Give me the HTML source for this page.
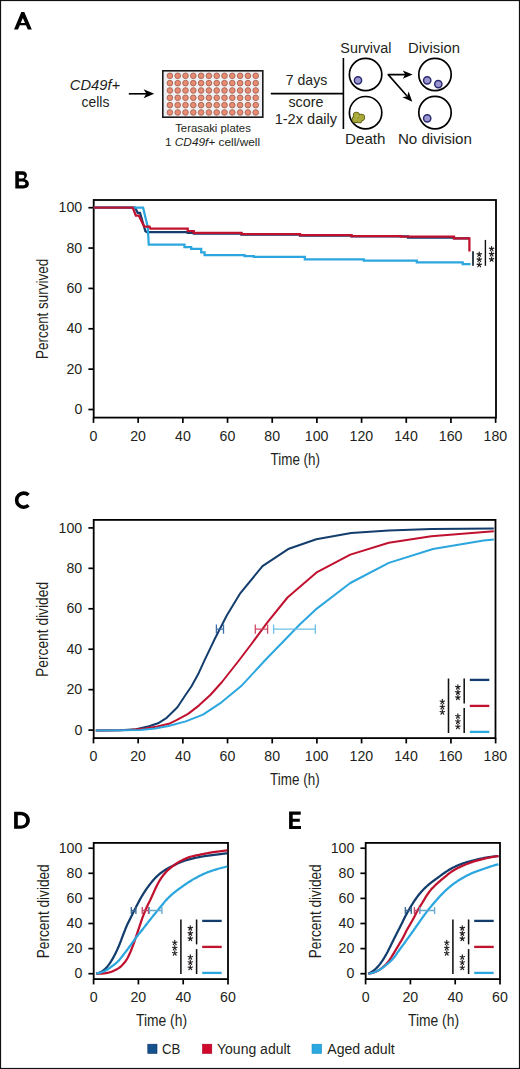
<!DOCTYPE html>
<html><head><meta charset="utf-8"><style>
html,body{margin:0;padding:0;background:#fff;}
body{width:520px;height:1069px;overflow:hidden;}
svg{display:block;font-family:"Liberation Sans",sans-serif;}
</style></head><body>
<svg width="520" height="1069" viewBox="0 0 520 1069">
<rect x="0" y="0" width="520" height="1069" fill="#fff"/>
<path fill-rule="evenodd" fill="#000" d="M14 29.6 L21.3 12 L24.3 12 L31.8 29.6 L27.8 29.6 L25.93 25.2 L19.83 25.2 L18 29.6 Z M20.74 23 L22.83 17.95 L24.99 23 Z"/>
<text transform="translate(69.78 89.60) scale(1.0294 1)" font-size="14.30" fill="#231f20"><tspan font-style="italic">CD49f+</tspan></text>
<text transform="translate(81.51 106.50) scale(0.9782 1)" font-size="14.30" fill="#231f20"><tspan>cells</tspan></text>
<line x1="128.8" y1="93.8" x2="148" y2="93.8" stroke="#000" stroke-width="1.6"/>
<path d="M154.2 93.8 L143.6 89.2 L146.4 93.8 L143.6 98.2 Z" fill="#000"/>
<rect x="162.8" y="70.8" width="100" height="46.4" fill="#f0f0f4" stroke="#1a1a1a" stroke-width="1.6"/>
<circle cx="169.90" cy="75.80" r="2.8" fill="#e98b74" stroke="#a8654f" stroke-width="0.95"/>
<circle cx="177.70" cy="75.80" r="2.8" fill="#e98b74" stroke="#a8654f" stroke-width="0.95"/>
<circle cx="185.50" cy="75.80" r="2.8" fill="#e98b74" stroke="#a8654f" stroke-width="0.95"/>
<circle cx="193.30" cy="75.80" r="2.8" fill="#e98b74" stroke="#a8654f" stroke-width="0.95"/>
<circle cx="201.10" cy="75.80" r="2.8" fill="#e98b74" stroke="#a8654f" stroke-width="0.95"/>
<circle cx="208.90" cy="75.80" r="2.8" fill="#e98b74" stroke="#a8654f" stroke-width="0.95"/>
<circle cx="216.70" cy="75.80" r="2.8" fill="#e98b74" stroke="#a8654f" stroke-width="0.95"/>
<circle cx="224.50" cy="75.80" r="2.8" fill="#e98b74" stroke="#a8654f" stroke-width="0.95"/>
<circle cx="232.30" cy="75.80" r="2.8" fill="#e98b74" stroke="#a8654f" stroke-width="0.95"/>
<circle cx="240.10" cy="75.80" r="2.8" fill="#e98b74" stroke="#a8654f" stroke-width="0.95"/>
<circle cx="247.90" cy="75.80" r="2.8" fill="#e98b74" stroke="#a8654f" stroke-width="0.95"/>
<circle cx="255.70" cy="75.80" r="2.8" fill="#e98b74" stroke="#a8654f" stroke-width="0.95"/>
<circle cx="169.90" cy="83.13" r="2.8" fill="#e98b74" stroke="#a8654f" stroke-width="0.95"/>
<circle cx="177.70" cy="83.13" r="2.8" fill="#e98b74" stroke="#a8654f" stroke-width="0.95"/>
<circle cx="185.50" cy="83.13" r="2.8" fill="#e98b74" stroke="#a8654f" stroke-width="0.95"/>
<circle cx="193.30" cy="83.13" r="2.8" fill="#e98b74" stroke="#a8654f" stroke-width="0.95"/>
<circle cx="201.10" cy="83.13" r="2.8" fill="#e98b74" stroke="#a8654f" stroke-width="0.95"/>
<circle cx="208.90" cy="83.13" r="2.8" fill="#e98b74" stroke="#a8654f" stroke-width="0.95"/>
<circle cx="216.70" cy="83.13" r="2.8" fill="#e98b74" stroke="#a8654f" stroke-width="0.95"/>
<circle cx="224.50" cy="83.13" r="2.8" fill="#e98b74" stroke="#a8654f" stroke-width="0.95"/>
<circle cx="232.30" cy="83.13" r="2.8" fill="#e98b74" stroke="#a8654f" stroke-width="0.95"/>
<circle cx="240.10" cy="83.13" r="2.8" fill="#e98b74" stroke="#a8654f" stroke-width="0.95"/>
<circle cx="247.90" cy="83.13" r="2.8" fill="#e98b74" stroke="#a8654f" stroke-width="0.95"/>
<circle cx="255.70" cy="83.13" r="2.8" fill="#e98b74" stroke="#a8654f" stroke-width="0.95"/>
<circle cx="169.90" cy="90.46" r="2.8" fill="#e98b74" stroke="#a8654f" stroke-width="0.95"/>
<circle cx="177.70" cy="90.46" r="2.8" fill="#e98b74" stroke="#a8654f" stroke-width="0.95"/>
<circle cx="185.50" cy="90.46" r="2.8" fill="#e98b74" stroke="#a8654f" stroke-width="0.95"/>
<circle cx="193.30" cy="90.46" r="2.8" fill="#e98b74" stroke="#a8654f" stroke-width="0.95"/>
<circle cx="201.10" cy="90.46" r="2.8" fill="#e98b74" stroke="#a8654f" stroke-width="0.95"/>
<circle cx="208.90" cy="90.46" r="2.8" fill="#e98b74" stroke="#a8654f" stroke-width="0.95"/>
<circle cx="216.70" cy="90.46" r="2.8" fill="#e98b74" stroke="#a8654f" stroke-width="0.95"/>
<circle cx="224.50" cy="90.46" r="2.8" fill="#e98b74" stroke="#a8654f" stroke-width="0.95"/>
<circle cx="232.30" cy="90.46" r="2.8" fill="#e98b74" stroke="#a8654f" stroke-width="0.95"/>
<circle cx="240.10" cy="90.46" r="2.8" fill="#e98b74" stroke="#a8654f" stroke-width="0.95"/>
<circle cx="247.90" cy="90.46" r="2.8" fill="#e98b74" stroke="#a8654f" stroke-width="0.95"/>
<circle cx="255.70" cy="90.46" r="2.8" fill="#e98b74" stroke="#a8654f" stroke-width="0.95"/>
<circle cx="169.90" cy="97.79" r="2.8" fill="#e98b74" stroke="#a8654f" stroke-width="0.95"/>
<circle cx="177.70" cy="97.79" r="2.8" fill="#e98b74" stroke="#a8654f" stroke-width="0.95"/>
<circle cx="185.50" cy="97.79" r="2.8" fill="#e98b74" stroke="#a8654f" stroke-width="0.95"/>
<circle cx="193.30" cy="97.79" r="2.8" fill="#e98b74" stroke="#a8654f" stroke-width="0.95"/>
<circle cx="201.10" cy="97.79" r="2.8" fill="#e98b74" stroke="#a8654f" stroke-width="0.95"/>
<circle cx="208.90" cy="97.79" r="2.8" fill="#e98b74" stroke="#a8654f" stroke-width="0.95"/>
<circle cx="216.70" cy="97.79" r="2.8" fill="#e98b74" stroke="#a8654f" stroke-width="0.95"/>
<circle cx="224.50" cy="97.79" r="2.8" fill="#e98b74" stroke="#a8654f" stroke-width="0.95"/>
<circle cx="232.30" cy="97.79" r="2.8" fill="#e98b74" stroke="#a8654f" stroke-width="0.95"/>
<circle cx="240.10" cy="97.79" r="2.8" fill="#e98b74" stroke="#a8654f" stroke-width="0.95"/>
<circle cx="247.90" cy="97.79" r="2.8" fill="#e98b74" stroke="#a8654f" stroke-width="0.95"/>
<circle cx="255.70" cy="97.79" r="2.8" fill="#e98b74" stroke="#a8654f" stroke-width="0.95"/>
<circle cx="169.90" cy="105.12" r="2.8" fill="#e98b74" stroke="#a8654f" stroke-width="0.95"/>
<circle cx="177.70" cy="105.12" r="2.8" fill="#e98b74" stroke="#a8654f" stroke-width="0.95"/>
<circle cx="185.50" cy="105.12" r="2.8" fill="#e98b74" stroke="#a8654f" stroke-width="0.95"/>
<circle cx="193.30" cy="105.12" r="2.8" fill="#e98b74" stroke="#a8654f" stroke-width="0.95"/>
<circle cx="201.10" cy="105.12" r="2.8" fill="#e98b74" stroke="#a8654f" stroke-width="0.95"/>
<circle cx="208.90" cy="105.12" r="2.8" fill="#e98b74" stroke="#a8654f" stroke-width="0.95"/>
<circle cx="216.70" cy="105.12" r="2.8" fill="#e98b74" stroke="#a8654f" stroke-width="0.95"/>
<circle cx="224.50" cy="105.12" r="2.8" fill="#e98b74" stroke="#a8654f" stroke-width="0.95"/>
<circle cx="232.30" cy="105.12" r="2.8" fill="#e98b74" stroke="#a8654f" stroke-width="0.95"/>
<circle cx="240.10" cy="105.12" r="2.8" fill="#e98b74" stroke="#a8654f" stroke-width="0.95"/>
<circle cx="247.90" cy="105.12" r="2.8" fill="#e98b74" stroke="#a8654f" stroke-width="0.95"/>
<circle cx="255.70" cy="105.12" r="2.8" fill="#e98b74" stroke="#a8654f" stroke-width="0.95"/>
<circle cx="169.90" cy="112.45" r="2.8" fill="#e98b74" stroke="#a8654f" stroke-width="0.95"/>
<circle cx="177.70" cy="112.45" r="2.8" fill="#e98b74" stroke="#a8654f" stroke-width="0.95"/>
<circle cx="185.50" cy="112.45" r="2.8" fill="#e98b74" stroke="#a8654f" stroke-width="0.95"/>
<circle cx="193.30" cy="112.45" r="2.8" fill="#e98b74" stroke="#a8654f" stroke-width="0.95"/>
<circle cx="201.10" cy="112.45" r="2.8" fill="#e98b74" stroke="#a8654f" stroke-width="0.95"/>
<circle cx="208.90" cy="112.45" r="2.8" fill="#e98b74" stroke="#a8654f" stroke-width="0.95"/>
<circle cx="216.70" cy="112.45" r="2.8" fill="#e98b74" stroke="#a8654f" stroke-width="0.95"/>
<circle cx="224.50" cy="112.45" r="2.8" fill="#e98b74" stroke="#a8654f" stroke-width="0.95"/>
<circle cx="232.30" cy="112.45" r="2.8" fill="#e98b74" stroke="#a8654f" stroke-width="0.95"/>
<circle cx="240.10" cy="112.45" r="2.8" fill="#e98b74" stroke="#a8654f" stroke-width="0.95"/>
<circle cx="247.90" cy="112.45" r="2.8" fill="#e98b74" stroke="#a8654f" stroke-width="0.95"/>
<circle cx="255.70" cy="112.45" r="2.8" fill="#e98b74" stroke="#a8654f" stroke-width="0.95"/>
<text transform="translate(175.15 131.70) scale(1.0142 1)" font-size="11.20" fill="#231f20"><tspan>Terasaki plates</tspan></text>
<text transform="translate(164.90 145.70) scale(1.0594 1)" font-size="11.20" fill="#231f20"><tspan>1 </tspan><tspan font-style="italic">CD49f+</tspan><tspan> cell/well</tspan></text>
<text transform="translate(285.76 85.00) scale(0.9853 1)" font-size="14.30" fill="#231f20"><tspan>7 days</tspan></text>
<text transform="translate(288.40 106.50) scale(1.0000 1)" font-size="14.30" fill="#231f20"><tspan>score</tspan></text>
<text transform="translate(274.68 124.20) scale(1.0192 1)" font-size="14.30" fill="#231f20"><tspan>1-2x daily</tspan></text>
<line x1="270.8" y1="93.6" x2="343.4" y2="93.6" stroke="#000" stroke-width="1.6"/>
<line x1="343.4" y1="58" x2="343.4" y2="129" stroke="#000" stroke-width="1.6"/>
<circle cx="365.6" cy="74.5" r="16.2" fill="#fff" stroke="#000" stroke-width="1.7"/>
<circle cx="365.6" cy="112.7" r="16.2" fill="#fff" stroke="#000" stroke-width="1.7"/>
<circle cx="435.0" cy="74.5" r="16.2" fill="#fff" stroke="#000" stroke-width="1.7"/>
<circle cx="435.0" cy="112.6" r="16.2" fill="#fff" stroke="#000" stroke-width="1.7"/>
<circle cx="358.0" cy="80.3" r="3.65" fill="#9b95d0" stroke="#2a2a70" stroke-width="1.45"/>
<circle cx="427.2" cy="80.3" r="3.65" fill="#9b95d0" stroke="#2a2a70" stroke-width="1.45"/>
<circle cx="438.3" cy="84.1" r="3.65" fill="#9b95d0" stroke="#2a2a70" stroke-width="1.45"/>
<circle cx="427.2" cy="118.3" r="3.65" fill="#9b95d0" stroke="#2a2a70" stroke-width="1.45"/>
<circle cx="356.40" cy="115.30" r="2.90" fill="#6a6a1c" stroke="#5c5c14" stroke-width="1.3"/>
<circle cx="361.40" cy="117.40" r="3.00" fill="#6a6a1c" stroke="#5c5c14" stroke-width="1.3"/>
<circle cx="355.30" cy="119.50" r="3.00" fill="#6a6a1c" stroke="#5c5c14" stroke-width="1.3"/>
<circle cx="359.30" cy="120.20" r="2.50" fill="#6a6a1c" stroke="#5c5c14" stroke-width="1.3"/>
<circle cx="356.40" cy="115.30" r="2.70" fill="#a9a83a"/>
<circle cx="361.40" cy="117.40" r="2.80" fill="#a9a83a"/>
<circle cx="355.30" cy="119.50" r="2.80" fill="#a9a83a"/>
<circle cx="359.30" cy="120.20" r="2.30" fill="#a9a83a"/>
<circle cx="357.2" cy="116.2" r="1.3" fill="#bcbb55" opacity="0.7"/>
<polyline points="406,74.6 388.2,74.6 406.8,95.8" fill="none" stroke="#000" stroke-width="1.6" stroke-linejoin="round" stroke-linecap="butt"/>
<path d="M412.6 74.6 L402.8 70.4 L405.2 74.6 L402.8 78.8 Z" fill="#000"/>
<path d="M412.3 101.8 L402.4 97.2 L407.2 96.3 L408.6 91.6 Z" fill="#000"/>
<text transform="translate(340.35 53.00) scale(1.0041 1)" font-size="14.30" fill="#231f20"><tspan>Survival</tspan></text>
<text transform="translate(408.11 53.00) scale(1.0354 1)" font-size="14.30" fill="#231f20"><tspan>Division</tspan></text>
<text transform="translate(344.98 144.00) scale(1.0637 1)" font-size="14.30" fill="#231f20"><tspan>Death</tspan></text>
<text transform="translate(397.88 144.00) scale(1.0604 1)" font-size="14.30" fill="#231f20"><tspan>No division</tspan></text>
<path fill-rule="evenodd" fill="#000" d="M15.3 171.3 H22.6 C25.4 171.3 26.9 173.0 26.9 175.2 C26.9 177.0 25.9 178.3 24.6 179.0 C27.0 179.6 28.9 181.2 28.9 183.7 C28.9 186.6 26.7 188.4 23.4 188.4 H15.3 Z M18.9 174.7 H22.3 C23.6 174.7 24.3 175.4 24.3 176.6 C24.3 177.8 23.5 178.6 22.2 178.6 H18.9 Z M18.9 181.4 H22.9 C24.5 181.4 25.4 182.3 25.4 183.4 C25.4 184.6 24.5 185.2 22.9 185.2 H18.9 Z"/>
<rect x="93.70" y="200.00" width="402.30" height="217.60" fill="none" stroke="#000" stroke-width="1.8"/>
<line x1="88.40" y1="207.70" x2="93.70" y2="207.70" stroke="#000" stroke-width="1.70"/>
<text transform="translate(58.61 212.30) scale(0.9330 1)" font-size="15.20" fill="#231f20"><tspan>100</tspan></text>
<line x1="88.40" y1="248.06" x2="93.70" y2="248.06" stroke="#000" stroke-width="1.70"/>
<text transform="translate(66.49 252.66) scale(0.9330 1)" font-size="15.20" fill="#231f20"><tspan>80</tspan></text>
<line x1="88.40" y1="288.42" x2="93.70" y2="288.42" stroke="#000" stroke-width="1.70"/>
<text transform="translate(66.49 293.02) scale(0.9330 1)" font-size="15.20" fill="#231f20"><tspan>60</tspan></text>
<line x1="88.40" y1="328.78" x2="93.70" y2="328.78" stroke="#000" stroke-width="1.70"/>
<text transform="translate(66.49 333.38) scale(0.9330 1)" font-size="15.20" fill="#231f20"><tspan>40</tspan></text>
<line x1="88.40" y1="369.14" x2="93.70" y2="369.14" stroke="#000" stroke-width="1.70"/>
<text transform="translate(66.49 373.74) scale(0.9330 1)" font-size="15.20" fill="#231f20"><tspan>20</tspan></text>
<line x1="88.40" y1="409.50" x2="93.70" y2="409.50" stroke="#000" stroke-width="1.70"/>
<text transform="translate(74.38 414.10) scale(0.9330 1)" font-size="15.20" fill="#231f20"><tspan>0</tspan></text>
<line x1="93.50" y1="417.60" x2="93.50" y2="422.90" stroke="#000" stroke-width="1.70"/>
<text transform="translate(89.56 440.80) scale(0.9330 1)" font-size="15.20" fill="#231f20"><tspan>0</tspan></text>
<line x1="138.18" y1="417.60" x2="138.18" y2="422.90" stroke="#000" stroke-width="1.70"/>
<text transform="translate(130.23 440.80) scale(0.9330 1)" font-size="15.20" fill="#231f20"><tspan>20</tspan></text>
<line x1="182.86" y1="417.60" x2="182.86" y2="422.90" stroke="#000" stroke-width="1.70"/>
<text transform="translate(175.09 440.80) scale(0.9330 1)" font-size="15.20" fill="#231f20"><tspan>40</tspan></text>
<line x1="227.54" y1="417.60" x2="227.54" y2="422.90" stroke="#000" stroke-width="1.70"/>
<text transform="translate(219.59 440.80) scale(0.9330 1)" font-size="15.20" fill="#231f20"><tspan>60</tspan></text>
<line x1="272.22" y1="417.60" x2="272.22" y2="422.90" stroke="#000" stroke-width="1.70"/>
<text transform="translate(264.31 440.80) scale(0.9330 1)" font-size="15.20" fill="#231f20"><tspan>80</tspan></text>
<line x1="316.90" y1="417.60" x2="316.90" y2="422.90" stroke="#000" stroke-width="1.70"/>
<text transform="translate(304.82 440.80) scale(0.9330 1)" font-size="15.20" fill="#231f20"><tspan>100</tspan></text>
<line x1="361.58" y1="417.60" x2="361.58" y2="422.90" stroke="#000" stroke-width="1.70"/>
<text transform="translate(349.50 440.80) scale(0.9330 1)" font-size="15.20" fill="#231f20"><tspan>120</tspan></text>
<line x1="406.26" y1="417.60" x2="406.26" y2="422.90" stroke="#000" stroke-width="1.70"/>
<text transform="translate(394.18 440.80) scale(0.9330 1)" font-size="15.20" fill="#231f20"><tspan>140</tspan></text>
<line x1="450.94" y1="417.60" x2="450.94" y2="422.90" stroke="#000" stroke-width="1.70"/>
<text transform="translate(438.86 440.80) scale(0.9330 1)" font-size="15.20" fill="#231f20"><tspan>160</tspan></text>
<line x1="495.62" y1="417.60" x2="495.62" y2="422.90" stroke="#000" stroke-width="1.70"/>
<text transform="translate(483.54 440.80) scale(0.9330 1)" font-size="15.20" fill="#231f20"><tspan>180</tspan></text>
<text transform="translate(270.51 464.90) scale(0.8295 1)" font-size="16.20" fill="#231f20"><tspan>Time (h)</tspan></text>
<text transform="translate(48.00 358.98) rotate(-90) scale(0.8309 1)" font-size="16.20" fill="#231f20"><tspan>Percent survived</tspan></text>
<path d="M93.7 207.6 H135 L137.7 212.8 H140 L145.4 231.2 L147 232 H187.7 V232.8 H193.8 V233.6 H241.5 V234.6 H300 V235.5 H351.5 V236.3 H408 V237.6 H454 V238.3 H469.5" fill="none" stroke="#133d6c" stroke-width="2.25" stroke-linejoin="miter"/>
<path d="M93.7 207.6 H143.1 L145 215.8 L147.7 226.6 L148.8 244.7 H184.5 V247 H191.2 V248.8 H201.2 V252.3 H204.6 V255.2 H244.6 V256.1 H253.8 V256.9 H304.8 V259.4 H363.8 V260.5 H416.8 V262.4 H462.7 V264 H470.6" fill="none" stroke="#2ba6de" stroke-width="2.25" stroke-linejoin="miter"/>
<path d="M93.7 207.6 H132.7 L135.8 215.5 H138.8 L144.2 226.6 H149.6 L150.4 228.5 H187.7 V231 H193.8 V232.8 H241.5 V234.2 H300 V235.2 H351.5 V236 H400.8 V236.5 H454 V238.4 H469.4 V251.4" fill="none" stroke="#c0112f" stroke-width="2.25" stroke-linejoin="miter"/>
<line x1="473.0" y1="251.2" x2="473.0" y2="265.8" stroke="#1e2d3a" stroke-width="1.8"/>
<line x1="485.4" y1="239.9" x2="485.4" y2="265.8" stroke="#111" stroke-width="1.4"/>
<path d="M479.25 254.35 L479.25 252.00 M479.25 254.35 L481.48 253.62 M479.25 254.35 L480.63 256.25 M479.25 254.35 L477.87 256.25 M479.25 254.35 L477.02 253.62 " stroke="#231f20" stroke-width="1.20" stroke-linecap="round" fill="none"/>
<path d="M479.25 259.60 L479.25 257.25 M479.25 259.60 L481.48 258.87 M479.25 259.60 L480.63 261.50 M479.25 259.60 L477.87 261.50 M479.25 259.60 L477.02 258.87 " stroke="#231f20" stroke-width="1.20" stroke-linecap="round" fill="none"/>
<path d="M479.25 264.85 L479.25 262.50 M479.25 264.85 L481.48 264.12 M479.25 264.85 L480.63 266.75 M479.25 264.85 L477.87 266.75 M479.25 264.85 L477.02 264.12 " stroke="#231f20" stroke-width="1.20" stroke-linecap="round" fill="none"/>
<path d="M491.60 248.85 L491.60 246.50 M491.60 248.85 L493.83 248.12 M491.60 248.85 L492.98 250.75 M491.60 248.85 L490.22 250.75 M491.60 248.85 L489.37 248.12 " stroke="#231f20" stroke-width="1.20" stroke-linecap="round" fill="none"/>
<path d="M491.60 254.10 L491.60 251.75 M491.60 254.10 L493.83 253.37 M491.60 254.10 L492.98 256.00 M491.60 254.10 L490.22 256.00 M491.60 254.10 L489.37 253.37 " stroke="#231f20" stroke-width="1.20" stroke-linecap="round" fill="none"/>
<path d="M491.60 259.35 L491.60 257.00 M491.60 259.35 L493.83 258.62 M491.60 259.35 L492.98 261.25 M491.60 259.35 L490.22 261.25 M491.60 259.35 L489.37 258.62 " stroke="#231f20" stroke-width="1.20" stroke-linecap="round" fill="none"/>
<path fill="none" stroke="#000" stroke-width="3.6" d="M28.5 495.0 A7.05 7.05 0 1 0 28.5 505.3"/>
<rect x="93.70" y="519.90" width="401.80" height="218.20" fill="none" stroke="#000" stroke-width="1.8"/>
<line x1="88.40" y1="527.90" x2="93.70" y2="527.90" stroke="#000" stroke-width="1.70"/>
<text transform="translate(58.61 532.50) scale(0.9330 1)" font-size="15.20" fill="#231f20"><tspan>100</tspan></text>
<line x1="88.40" y1="568.34" x2="93.70" y2="568.34" stroke="#000" stroke-width="1.70"/>
<text transform="translate(66.49 572.94) scale(0.9330 1)" font-size="15.20" fill="#231f20"><tspan>80</tspan></text>
<line x1="88.40" y1="608.78" x2="93.70" y2="608.78" stroke="#000" stroke-width="1.70"/>
<text transform="translate(66.49 613.38) scale(0.9330 1)" font-size="15.20" fill="#231f20"><tspan>60</tspan></text>
<line x1="88.40" y1="649.22" x2="93.70" y2="649.22" stroke="#000" stroke-width="1.70"/>
<text transform="translate(66.49 653.82) scale(0.9330 1)" font-size="15.20" fill="#231f20"><tspan>40</tspan></text>
<line x1="88.40" y1="689.66" x2="93.70" y2="689.66" stroke="#000" stroke-width="1.70"/>
<text transform="translate(66.49 694.26) scale(0.9330 1)" font-size="15.20" fill="#231f20"><tspan>20</tspan></text>
<line x1="88.40" y1="730.10" x2="93.70" y2="730.10" stroke="#000" stroke-width="1.70"/>
<text transform="translate(74.38 734.70) scale(0.9330 1)" font-size="15.20" fill="#231f20"><tspan>0</tspan></text>
<line x1="93.50" y1="738.10" x2="93.50" y2="743.40" stroke="#000" stroke-width="1.70"/>
<text transform="translate(89.56 761.20) scale(0.9330 1)" font-size="15.20" fill="#231f20"><tspan>0</tspan></text>
<line x1="138.18" y1="738.10" x2="138.18" y2="743.40" stroke="#000" stroke-width="1.70"/>
<text transform="translate(130.23 761.20) scale(0.9330 1)" font-size="15.20" fill="#231f20"><tspan>20</tspan></text>
<line x1="182.86" y1="738.10" x2="182.86" y2="743.40" stroke="#000" stroke-width="1.70"/>
<text transform="translate(175.09 761.20) scale(0.9330 1)" font-size="15.20" fill="#231f20"><tspan>40</tspan></text>
<line x1="227.54" y1="738.10" x2="227.54" y2="743.40" stroke="#000" stroke-width="1.70"/>
<text transform="translate(219.59 761.20) scale(0.9330 1)" font-size="15.20" fill="#231f20"><tspan>60</tspan></text>
<line x1="272.22" y1="738.10" x2="272.22" y2="743.40" stroke="#000" stroke-width="1.70"/>
<text transform="translate(264.31 761.20) scale(0.9330 1)" font-size="15.20" fill="#231f20"><tspan>80</tspan></text>
<line x1="316.90" y1="738.10" x2="316.90" y2="743.40" stroke="#000" stroke-width="1.70"/>
<text transform="translate(304.82 761.20) scale(0.9330 1)" font-size="15.20" fill="#231f20"><tspan>100</tspan></text>
<line x1="361.58" y1="738.10" x2="361.58" y2="743.40" stroke="#000" stroke-width="1.70"/>
<text transform="translate(349.50 761.20) scale(0.9330 1)" font-size="15.20" fill="#231f20"><tspan>120</tspan></text>
<line x1="406.26" y1="738.10" x2="406.26" y2="743.40" stroke="#000" stroke-width="1.70"/>
<text transform="translate(394.18 761.20) scale(0.9330 1)" font-size="15.20" fill="#231f20"><tspan>140</tspan></text>
<line x1="450.94" y1="738.10" x2="450.94" y2="743.40" stroke="#000" stroke-width="1.70"/>
<text transform="translate(438.86 761.20) scale(0.9330 1)" font-size="15.20" fill="#231f20"><tspan>160</tspan></text>
<line x1="495.62" y1="738.10" x2="495.62" y2="743.40" stroke="#000" stroke-width="1.70"/>
<text transform="translate(483.54 761.20) scale(0.9330 1)" font-size="15.20" fill="#231f20"><tspan>180</tspan></text>
<text transform="translate(270.11 784.60) scale(0.8295 1)" font-size="16.20" fill="#231f20"><tspan>Time (h)</tspan></text>
<text transform="translate(48.30 676.91) rotate(-90) scale(0.8509 1)" font-size="16.20" fill="#231f20"><tspan>Percent divided</tspan></text>
<polyline points="95.80,730.40 120.00,730.20 136.00,729.30 149.00,726.30 158.00,723.30 166.70,717.80 177.40,707.30 185.00,695.80 191.50,686.30 198.10,674.30 204.60,660.10 211.20,646.40 214.60,639.20 226.90,615.30 240.40,593.10 262.50,566.20 288.90,548.70 316.30,539.20 351.20,533.00 388.80,530.40 431.30,529.10 493.80,528.50" fill="none" stroke="#133d6c" stroke-width="2.00" stroke-linejoin="round" stroke-linecap="butt"/>
<polyline points="95.80,730.40 130.00,730.00 145.00,728.60 157.30,726.50 168.90,723.80 176.50,720.20 188.10,713.90 198.80,705.60 210.30,695.00 222.00,682.00 239.30,660.00 250.30,645.50 267.40,622.30 287.50,597.50 317.10,572.10 350.30,554.60 388.80,542.80 431.30,536.20 493.80,531.30" fill="none" stroke="#c0112f" stroke-width="2.00" stroke-linejoin="round" stroke-linecap="butt"/>
<polyline points="95.80,730.40 140.00,730.00 155.00,728.50 168.50,726.00 185.80,721.40 203.00,714.60 221.50,702.30 241.20,686.10 264.60,660.80 300.00,624.20 315.80,609.40 350.30,583.00 388.80,562.90 433.00,549.00 483.60,540.50 493.80,539.50" fill="none" stroke="#2ba6de" stroke-width="2.00" stroke-linejoin="round" stroke-linecap="butt"/>
<path d="M216.40 629.10 H223.50 M216.40 624.40 V633.80 M223.50 624.40 V633.80" fill="none" stroke="#3f6ea6" stroke-width="1.30"/>
<path d="M255.30 629.10 H267.60 M255.30 624.40 V633.80 M267.60 624.40 V633.80" fill="none" stroke="#cc4c68" stroke-width="1.30"/>
<path d="M273.60 629.10 H315.30 M273.60 624.40 V633.80 M315.30 624.40 V633.80" fill="none" stroke="#6cbfe6" stroke-width="1.30"/>
<line x1="469.80" y1="679.90" x2="489.30" y2="679.90" stroke="#133d6c" stroke-width="2.3"/>
<line x1="469.80" y1="705.90" x2="489.30" y2="705.90" stroke="#c0112f" stroke-width="2.3"/>
<line x1="469.80" y1="731.90" x2="489.30" y2="731.90" stroke="#2ba6de" stroke-width="2.3"/>
<line x1="448.50" y1="678.50" x2="448.50" y2="733.00" stroke="#111" stroke-width="1.55"/>
<line x1="464.20" y1="678.50" x2="464.20" y2="703.40" stroke="#111" stroke-width="1.55"/>
<line x1="464.20" y1="708.10" x2="464.20" y2="733.00" stroke="#111" stroke-width="1.55"/>
<path d="M442.35 701.75 L442.35 699.40 M442.35 701.75 L444.58 701.02 M442.35 701.75 L443.73 703.65 M442.35 701.75 L440.97 703.65 M442.35 701.75 L440.12 701.02 " stroke="#231f20" stroke-width="1.20" stroke-linecap="round" fill="none"/>
<path d="M442.35 707.00 L442.35 704.65 M442.35 707.00 L444.58 706.27 M442.35 707.00 L443.73 708.90 M442.35 707.00 L440.97 708.90 M442.35 707.00 L440.12 706.27 " stroke="#231f20" stroke-width="1.20" stroke-linecap="round" fill="none"/>
<path d="M442.35 712.25 L442.35 709.90 M442.35 712.25 L444.58 711.52 M442.35 712.25 L443.73 714.15 M442.35 712.25 L440.97 714.15 M442.35 712.25 L440.12 711.52 " stroke="#231f20" stroke-width="1.20" stroke-linecap="round" fill="none"/>
<path d="M457.90 687.15 L457.90 684.80 M457.90 687.15 L460.13 686.42 M457.90 687.15 L459.28 689.05 M457.90 687.15 L456.52 689.05 M457.90 687.15 L455.67 686.42 " stroke="#231f20" stroke-width="1.20" stroke-linecap="round" fill="none"/>
<path d="M457.90 692.40 L457.90 690.05 M457.90 692.40 L460.13 691.67 M457.90 692.40 L459.28 694.30 M457.90 692.40 L456.52 694.30 M457.90 692.40 L455.67 691.67 " stroke="#231f20" stroke-width="1.20" stroke-linecap="round" fill="none"/>
<path d="M457.90 697.65 L457.90 695.30 M457.90 697.65 L460.13 696.92 M457.90 697.65 L459.28 699.55 M457.90 697.65 L456.52 699.55 M457.90 697.65 L455.67 696.92 " stroke="#231f20" stroke-width="1.20" stroke-linecap="round" fill="none"/>
<path d="M457.90 716.25 L457.90 713.90 M457.90 716.25 L460.13 715.52 M457.90 716.25 L459.28 718.15 M457.90 716.25 L456.52 718.15 M457.90 716.25 L455.67 715.52 " stroke="#231f20" stroke-width="1.20" stroke-linecap="round" fill="none"/>
<path d="M457.90 721.50 L457.90 719.15 M457.90 721.50 L460.13 720.77 M457.90 721.50 L459.28 723.40 M457.90 721.50 L456.52 723.40 M457.90 721.50 L455.67 720.77 " stroke="#231f20" stroke-width="1.20" stroke-linecap="round" fill="none"/>
<path d="M457.90 726.75 L457.90 724.40 M457.90 726.75 L460.13 726.02 M457.90 726.75 L459.28 728.65 M457.90 726.75 L456.52 728.65 M457.90 726.75 L455.67 726.02 " stroke="#231f20" stroke-width="1.20" stroke-linecap="round" fill="none"/>
<path fill-rule="evenodd" fill="#000" d="M14.1 811.8 H20.5 C26 811.8 29.9 815.5 29.9 820.3 C29.9 825.1 26 828.8 20.5 828.8 H14.1 Z M17.8 815.3 H20.6 C23.9 815.3 26.1 817.4 26.1 820.5 C26.1 823.6 23.9 825.5 20.6 825.5 H17.8 Z"/>
<rect x="93.70" y="842.90" width="134.30" height="136.20" fill="none" stroke="#000" stroke-width="1.8"/>
<line x1="88.40" y1="848.20" x2="93.70" y2="848.20" stroke="#000" stroke-width="1.70"/>
<text transform="translate(58.71 852.80) scale(0.9330 1)" font-size="15.20" fill="#231f20"><tspan>100</tspan></text>
<line x1="88.40" y1="873.30" x2="93.70" y2="873.30" stroke="#000" stroke-width="1.70"/>
<text transform="translate(66.59 877.90) scale(0.9330 1)" font-size="15.20" fill="#231f20"><tspan>80</tspan></text>
<line x1="88.40" y1="898.40" x2="93.70" y2="898.40" stroke="#000" stroke-width="1.70"/>
<text transform="translate(66.59 903.00) scale(0.9330 1)" font-size="15.20" fill="#231f20"><tspan>60</tspan></text>
<line x1="88.40" y1="923.50" x2="93.70" y2="923.50" stroke="#000" stroke-width="1.70"/>
<text transform="translate(66.59 928.10) scale(0.9330 1)" font-size="15.20" fill="#231f20"><tspan>40</tspan></text>
<line x1="88.40" y1="948.60" x2="93.70" y2="948.60" stroke="#000" stroke-width="1.70"/>
<text transform="translate(66.59 953.20) scale(0.9330 1)" font-size="15.20" fill="#231f20"><tspan>20</tspan></text>
<line x1="88.40" y1="973.70" x2="93.70" y2="973.70" stroke="#000" stroke-width="1.70"/>
<text transform="translate(74.48 978.30) scale(0.9330 1)" font-size="15.20" fill="#231f20"><tspan>0</tspan></text>
<line x1="93.60" y1="979.10" x2="93.60" y2="984.40" stroke="#000" stroke-width="1.70"/>
<text transform="translate(89.66 1001.80) scale(0.9330 1)" font-size="15.20" fill="#231f20"><tspan>0</tspan></text>
<line x1="138.40" y1="979.10" x2="138.40" y2="984.40" stroke="#000" stroke-width="1.70"/>
<text transform="translate(130.45 1001.80) scale(0.9330 1)" font-size="15.20" fill="#231f20"><tspan>20</tspan></text>
<line x1="183.20" y1="979.10" x2="183.20" y2="984.40" stroke="#000" stroke-width="1.70"/>
<text transform="translate(175.43 1001.80) scale(0.9330 1)" font-size="15.20" fill="#231f20"><tspan>40</tspan></text>
<line x1="228.00" y1="979.10" x2="228.00" y2="984.40" stroke="#000" stroke-width="1.70"/>
<text transform="translate(220.05 1001.80) scale(0.9330 1)" font-size="15.20" fill="#231f20"><tspan>60</tspan></text>
<text transform="translate(136.00 1025.50) scale(0.8552 1)" font-size="16.20" fill="#231f20"><tspan>Time (h)</tspan></text>
<text transform="translate(48.60 958.29) rotate(-90) scale(0.8417 1)" font-size="16.20" fill="#231f20"><tspan>Percent divided</tspan></text>
<polyline points="96.30,973.70 97.26,973.43 98.22,973.14 99.15,972.78 100.06,972.39 100.94,971.94 101.80,971.45 102.63,970.92 103.43,970.34 104.19,969.72 104.94,969.06 105.65,968.38 106.34,967.66 107.01,966.93 107.66,966.17 108.28,965.39 108.88,964.59 109.45,963.78 110.02,962.96 110.56,962.12 111.10,961.28 111.62,960.43 112.13,959.57 112.63,958.70 113.12,957.83 113.60,956.95 114.08,956.07 114.55,955.19 115.01,954.31 115.46,953.41 115.90,952.52 116.33,951.61 116.75,950.71 117.16,949.80 117.58,948.89 117.98,947.97 118.39,947.06 118.79,946.14 119.18,945.23 119.57,944.30 119.94,943.38 120.30,942.44 120.66,941.51 121.01,940.58 121.36,939.64 121.71,938.70 122.06,937.76 122.41,936.83 122.76,935.89 123.11,934.95 123.46,934.02 123.82,933.08 124.18,932.15 124.55,931.22 124.91,930.29 125.28,929.36 125.65,928.43 126.02,927.50 126.41,926.58 126.80,925.66 127.20,924.75 127.63,923.85 128.06,922.95 128.51,922.05 128.96,921.16 129.42,920.27 129.87,919.38 130.33,918.49 130.77,917.60 131.22,916.70 131.66,915.80 132.10,914.91 132.54,914.01 132.98,913.11 133.42,912.21 133.87,911.32 134.31,910.42 134.76,909.53 135.21,908.63 135.66,907.74 136.12,906.85 136.57,905.96 137.03,905.07 137.49,904.18 137.95,903.30 138.41,902.41 138.87,901.52 139.34,900.64 139.82,899.76 140.30,898.89 140.80,898.02 141.30,897.16 141.81,896.30 142.32,895.44 142.84,894.58 143.36,893.73 143.89,892.88 144.42,892.03 144.97,891.20 145.52,890.37 146.09,889.54 146.66,888.72 147.24,887.91 147.82,887.10 148.41,886.29 149.01,885.49 149.62,884.69 150.23,883.90 150.85,883.12 151.48,882.35 152.12,881.58 152.76,880.81 153.41,880.05 154.07,879.30 154.74,878.56 155.43,877.83 156.12,877.12 156.83,876.41 157.55,875.72 158.28,875.04 159.03,874.38 159.79,873.75 160.58,873.14 161.38,872.55 162.20,871.97 163.03,871.41 163.86,870.86 164.70,870.32 165.55,869.79 166.40,869.28 167.26,868.77 168.13,868.27 169.01,867.79 169.89,867.32 170.77,866.86 171.67,866.41 172.56,865.96 173.46,865.51 174.35,865.07 175.25,864.63 176.15,864.19 177.05,863.76 177.96,863.34 178.87,862.93 179.79,862.54 180.71,862.16 181.64,861.80 182.58,861.45 183.52,861.12 184.47,860.80 185.42,860.49 186.37,860.20 187.33,859.91 188.29,859.64 189.25,859.37 190.22,859.11 191.19,858.87 192.16,858.63 193.13,858.40 194.11,858.17 195.08,857.95 196.06,857.73 197.03,857.51 198.01,857.30 198.99,857.10 199.97,856.90 200.95,856.72 201.93,856.55 202.92,856.39 203.91,856.24 204.90,856.10 205.89,855.96 206.88,855.82 207.87,855.68 208.86,855.54 209.85,855.40 210.84,855.27 211.83,855.14 212.82,855.01 213.82,854.88 214.81,854.76 215.80,854.64 216.79,854.52 217.79,854.41 218.78,854.29 219.77,854.18 220.77,854.06 221.76,853.95 222.75,853.83 223.74,853.71 224.72,853.60 225.70,853.49 226.65,853.38 227.30,853.30 227.30,853.30" fill="none" stroke="#133d6c" stroke-width="2.25" stroke-linejoin="round" stroke-linecap="butt"/>
<polyline points="96.30,973.70 97.30,973.69 98.30,973.67 99.30,973.66 100.30,973.64 101.30,973.59 102.29,973.53 103.29,973.45 104.28,973.35 105.27,973.22 106.25,973.06 107.23,972.88 108.20,972.66 109.17,972.41 110.12,972.14 111.07,971.83 112.01,971.50 112.93,971.13 113.85,970.73 114.75,970.31 115.64,969.86 116.52,969.39 117.39,968.91 118.24,968.39 119.07,967.85 119.87,967.27 120.64,966.65 121.38,965.99 122.09,965.30 122.78,964.58 123.44,963.84 124.09,963.08 124.73,962.31 125.33,961.53 125.91,960.72 126.45,959.89 126.97,959.04 127.45,958.17 127.91,957.29 128.36,956.40 128.81,955.50 129.24,954.60 129.66,953.69 130.07,952.78 130.47,951.87 130.85,950.95 131.22,950.02 131.59,949.09 131.95,948.15 132.30,947.22 132.66,946.28 133.01,945.35 133.36,944.41 133.71,943.48 134.05,942.54 134.39,941.60 134.72,940.65 135.05,939.71 135.37,938.76 135.68,937.81 136.00,936.86 136.31,935.91 136.63,934.96 136.94,934.01 137.26,933.06 137.57,932.11 137.89,931.17 138.20,930.22 138.52,929.27 138.84,928.32 139.16,927.37 139.48,926.43 139.80,925.48 140.12,924.53 140.44,923.58 140.76,922.64 141.08,921.69 141.41,920.74 141.73,919.80 142.07,918.86 142.40,917.92 142.75,916.98 143.11,916.04 143.47,915.11 143.83,914.18 144.20,913.25 144.57,912.32 144.95,911.40 145.32,910.47 145.71,909.55 146.10,908.63 146.50,907.71 146.91,906.80 147.34,905.90 147.78,905.00 148.22,904.11 148.67,903.21 149.12,902.32 149.56,901.42 150.01,900.53 150.44,899.63 150.87,898.72 151.29,897.82 151.70,896.91 152.11,895.99 152.52,895.08 152.92,894.16 153.32,893.25 153.72,892.33 154.13,891.42 154.54,890.51 154.95,889.60 155.37,888.69 155.80,887.79 156.24,886.89 156.68,885.99 157.13,885.10 157.59,884.21 158.05,883.32 158.53,882.45 159.01,881.58 159.52,880.72 160.05,879.87 160.59,879.03 161.14,878.20 161.70,877.37 162.28,876.55 162.86,875.75 163.47,874.95 164.09,874.18 164.74,873.42 165.40,872.68 166.09,871.96 166.79,871.25 167.51,870.55 168.24,869.87 168.98,869.21 169.74,868.56 170.51,867.92 171.29,867.30 172.08,866.68 172.87,866.07 173.67,865.48 174.48,864.88 175.29,864.30 176.11,863.73 176.93,863.17 177.77,862.63 178.62,862.10 179.48,861.60 180.36,861.13 181.24,860.66 182.14,860.22 183.04,859.79 183.94,859.36 184.85,858.95 185.77,858.55 186.69,858.16 187.61,857.78 188.54,857.42 189.48,857.08 190.42,856.78 191.38,856.51 192.35,856.26 193.32,856.03 194.29,855.82 195.27,855.61 196.25,855.40 197.23,855.20 198.21,855.00 199.19,854.80 200.17,854.60 201.15,854.40 202.13,854.21 203.11,854.02 204.09,853.83 205.07,853.64 206.06,853.45 207.04,853.26 208.02,853.07 209.00,852.89 209.99,852.71 210.97,852.54 211.96,852.37 212.95,852.22 213.93,852.08 214.93,851.95 215.92,851.82 216.91,851.69 217.90,851.57 218.89,851.44 219.89,851.32 220.88,851.20 221.87,851.07 222.86,850.95 223.85,850.83 224.85,850.70 225.84,850.58 226.82,850.46 227.30,850.40" fill="none" stroke="#c0112f" stroke-width="2.25" stroke-linejoin="round" stroke-linecap="butt"/>
<polyline points="96.30,973.70 97.27,973.46 98.24,973.21 99.20,972.95 100.16,972.67 101.11,972.37 102.06,972.04 102.99,971.69 103.91,971.31 104.81,970.90 105.71,970.46 106.58,969.99 107.44,969.49 108.27,968.95 109.10,968.39 109.90,967.80 110.70,967.20 111.50,966.60 112.29,965.99 113.08,965.38 113.88,964.78 114.67,964.17 115.46,963.56 116.23,962.93 116.99,962.28 117.71,961.61 118.41,960.91 119.08,960.17 119.73,959.42 120.36,958.65 120.99,957.87 121.60,957.08 122.22,956.30 122.83,955.51 123.45,954.72 124.06,953.93 124.67,953.13 125.28,952.34 125.89,951.55 126.49,950.75 127.09,949.95 127.69,949.15 128.28,948.34 128.87,947.53 129.45,946.72 130.04,945.91 130.62,945.10 131.20,944.29 131.79,943.47 132.37,942.66 132.96,941.85 133.54,941.04 134.13,940.23 134.71,939.42 135.31,938.62 135.91,937.82 136.51,937.02 137.12,936.23 137.74,935.45 138.37,934.66 138.99,933.89 139.62,933.11 140.25,932.33 140.87,931.55 141.50,930.76 142.11,929.98 142.73,929.19 143.34,928.40 143.95,927.61 144.57,926.82 145.18,926.03 145.79,925.23 146.40,924.44 147.01,923.65 147.62,922.86 148.23,922.07 148.85,921.28 149.47,920.50 150.09,919.71 150.71,918.93 151.34,918.15 151.96,917.37 152.59,916.59 153.22,915.81 153.85,915.04 154.48,914.26 155.11,913.48 155.74,912.71 156.37,911.94 157.01,911.16 157.65,910.39 158.29,909.62 158.92,908.85 159.56,908.08 160.20,907.31 160.83,906.54 161.47,905.76 162.10,904.99 162.73,904.21 163.36,903.44 163.99,902.66 164.62,901.89 165.27,901.13 165.92,900.37 166.59,899.63 167.27,898.90 167.97,898.19 168.69,897.49 169.41,896.81 170.14,896.12 170.87,895.45 171.61,894.77 172.36,894.11 173.12,893.46 173.88,892.82 174.66,892.19 175.45,891.58 176.24,890.97 177.04,890.37 177.84,889.77 178.64,889.17 179.45,888.58 180.26,887.99 181.07,887.41 181.88,886.83 182.70,886.25 183.52,885.68 184.34,885.10 185.16,884.53 185.99,883.97 186.81,883.41 187.64,882.85 188.48,882.30 189.32,881.76 190.16,881.22 191.00,880.68 191.85,880.15 192.71,879.64 193.57,879.13 194.43,878.63 195.31,878.15 196.19,877.68 197.08,877.22 197.97,876.76 198.86,876.31 199.75,875.86 200.65,875.42 201.55,874.99 202.45,874.56 203.36,874.14 204.27,873.72 205.18,873.32 206.10,872.92 207.02,872.54 207.95,872.17 208.89,871.82 209.83,871.48 210.77,871.15 211.72,870.83 212.66,870.51 213.62,870.21 214.57,869.90 215.52,869.61 216.48,869.32 217.44,869.04 218.40,868.76 219.36,868.49 220.33,868.23 221.29,867.97 222.26,867.72 223.23,867.48 224.19,867.24 225.16,867.01 226.11,866.78 227.02,866.57 227.30,866.50" fill="none" stroke="#2ba6de" stroke-width="2.25" stroke-linejoin="round" stroke-linecap="butt"/>
<path d="M131.30 910.50 H135.90 M131.30 907.10 V913.90 M135.90 907.10 V913.90" fill="none" stroke="#3a6694" stroke-width="1.30"/>
<path d="M142.20 910.50 H148.50 M142.20 907.10 V913.90 M148.50 907.10 V913.90" fill="none" stroke="#c04a66" stroke-width="1.30"/>
<path d="M149.40 910.50 H161.90 M149.40 907.10 V913.90 M161.90 907.10 V913.90" fill="none" stroke="#64a8cc" stroke-width="1.30"/>
<line x1="202.20" y1="920.90" x2="221.70" y2="920.90" stroke="#133d6c" stroke-width="2.3"/>
<line x1="202.20" y1="946.90" x2="221.70" y2="946.90" stroke="#c0112f" stroke-width="2.3"/>
<line x1="202.20" y1="972.90" x2="221.70" y2="972.90" stroke="#2ba6de" stroke-width="2.3"/>
<line x1="180.90" y1="919.50" x2="180.90" y2="974.00" stroke="#111" stroke-width="1.55"/>
<line x1="196.60" y1="919.50" x2="196.60" y2="944.40" stroke="#111" stroke-width="1.55"/>
<line x1="196.60" y1="949.10" x2="196.60" y2="974.00" stroke="#111" stroke-width="1.55"/>
<path d="M174.75 942.75 L174.75 940.40 M174.75 942.75 L176.98 942.02 M174.75 942.75 L176.13 944.65 M174.75 942.75 L173.37 944.65 M174.75 942.75 L172.52 942.02 " stroke="#231f20" stroke-width="1.20" stroke-linecap="round" fill="none"/>
<path d="M174.75 948.00 L174.75 945.65 M174.75 948.00 L176.98 947.27 M174.75 948.00 L176.13 949.90 M174.75 948.00 L173.37 949.90 M174.75 948.00 L172.52 947.27 " stroke="#231f20" stroke-width="1.20" stroke-linecap="round" fill="none"/>
<path d="M174.75 953.25 L174.75 950.90 M174.75 953.25 L176.98 952.52 M174.75 953.25 L176.13 955.15 M174.75 953.25 L173.37 955.15 M174.75 953.25 L172.52 952.52 " stroke="#231f20" stroke-width="1.20" stroke-linecap="round" fill="none"/>
<path d="M190.30 928.15 L190.30 925.80 M190.30 928.15 L192.53 927.42 M190.30 928.15 L191.68 930.05 M190.30 928.15 L188.92 930.05 M190.30 928.15 L188.07 927.42 " stroke="#231f20" stroke-width="1.20" stroke-linecap="round" fill="none"/>
<path d="M190.30 933.40 L190.30 931.05 M190.30 933.40 L192.53 932.67 M190.30 933.40 L191.68 935.30 M190.30 933.40 L188.92 935.30 M190.30 933.40 L188.07 932.67 " stroke="#231f20" stroke-width="1.20" stroke-linecap="round" fill="none"/>
<path d="M190.30 938.65 L190.30 936.30 M190.30 938.65 L192.53 937.92 M190.30 938.65 L191.68 940.55 M190.30 938.65 L188.92 940.55 M190.30 938.65 L188.07 937.92 " stroke="#231f20" stroke-width="1.20" stroke-linecap="round" fill="none"/>
<path d="M190.30 957.25 L190.30 954.90 M190.30 957.25 L192.53 956.52 M190.30 957.25 L191.68 959.15 M190.30 957.25 L188.92 959.15 M190.30 957.25 L188.07 956.52 " stroke="#231f20" stroke-width="1.20" stroke-linecap="round" fill="none"/>
<path d="M190.30 962.50 L190.30 960.15 M190.30 962.50 L192.53 961.77 M190.30 962.50 L191.68 964.40 M190.30 962.50 L188.92 964.40 M190.30 962.50 L188.07 961.77 " stroke="#231f20" stroke-width="1.20" stroke-linecap="round" fill="none"/>
<path d="M190.30 967.75 L190.30 965.40 M190.30 967.75 L192.53 967.02 M190.30 967.75 L191.68 969.65 M190.30 967.75 L188.92 969.65 M190.30 967.75 L188.07 967.02 " stroke="#231f20" stroke-width="1.20" stroke-linecap="round" fill="none"/>
<path fill="#000" d="M289.1 811.6 H300.7 V814.7 H292.7 V818.7 H299.8 V821.7 H292.7 V826 H301 V828.9 H289.1 Z"/>
<rect x="365.70" y="842.90" width="134.30" height="136.20" fill="none" stroke="#000" stroke-width="1.8"/>
<line x1="360.40" y1="848.20" x2="365.70" y2="848.20" stroke="#000" stroke-width="1.70"/>
<text transform="translate(330.71 852.80) scale(0.9330 1)" font-size="15.20" fill="#231f20"><tspan>100</tspan></text>
<line x1="360.40" y1="873.30" x2="365.70" y2="873.30" stroke="#000" stroke-width="1.70"/>
<text transform="translate(338.59 877.90) scale(0.9330 1)" font-size="15.20" fill="#231f20"><tspan>80</tspan></text>
<line x1="360.40" y1="898.40" x2="365.70" y2="898.40" stroke="#000" stroke-width="1.70"/>
<text transform="translate(338.59 903.00) scale(0.9330 1)" font-size="15.20" fill="#231f20"><tspan>60</tspan></text>
<line x1="360.40" y1="923.50" x2="365.70" y2="923.50" stroke="#000" stroke-width="1.70"/>
<text transform="translate(338.59 928.10) scale(0.9330 1)" font-size="15.20" fill="#231f20"><tspan>40</tspan></text>
<line x1="360.40" y1="948.60" x2="365.70" y2="948.60" stroke="#000" stroke-width="1.70"/>
<text transform="translate(338.59 953.20) scale(0.9330 1)" font-size="15.20" fill="#231f20"><tspan>20</tspan></text>
<line x1="360.40" y1="973.70" x2="365.70" y2="973.70" stroke="#000" stroke-width="1.70"/>
<text transform="translate(346.48 978.30) scale(0.9330 1)" font-size="15.20" fill="#231f20"><tspan>0</tspan></text>
<line x1="365.60" y1="979.10" x2="365.60" y2="984.40" stroke="#000" stroke-width="1.70"/>
<text transform="translate(361.66 1001.80) scale(0.9330 1)" font-size="15.20" fill="#231f20"><tspan>0</tspan></text>
<line x1="410.40" y1="979.10" x2="410.40" y2="984.40" stroke="#000" stroke-width="1.70"/>
<text transform="translate(402.45 1001.80) scale(0.9330 1)" font-size="15.20" fill="#231f20"><tspan>20</tspan></text>
<line x1="455.20" y1="979.10" x2="455.20" y2="984.40" stroke="#000" stroke-width="1.70"/>
<text transform="translate(447.43 1001.80) scale(0.9330 1)" font-size="15.20" fill="#231f20"><tspan>40</tspan></text>
<line x1="500.00" y1="979.10" x2="500.00" y2="984.40" stroke="#000" stroke-width="1.70"/>
<text transform="translate(492.05 1001.80) scale(0.9330 1)" font-size="15.20" fill="#231f20"><tspan>60</tspan></text>
<text transform="translate(408.00 1025.50) scale(0.8552 1)" font-size="16.20" fill="#231f20"><tspan>Time (h)</tspan></text>
<text transform="translate(320.60 958.29) rotate(-90) scale(0.8417 1)" font-size="16.20" fill="#231f20"><tspan>Percent divided</tspan></text>
<polyline points="368.30,973.70 369.19,973.25 370.09,972.81 370.97,972.34 371.82,971.83 372.64,971.27 373.44,970.69 374.22,970.07 374.98,969.43 375.71,968.76 376.43,968.07 377.13,967.36 377.81,966.64 378.47,965.89 379.12,965.13 379.74,964.35 380.35,963.56 380.95,962.76 381.53,961.94 382.09,961.12 382.64,960.29 383.18,959.45 383.71,958.60 384.24,957.75 384.75,956.89 385.26,956.03 385.76,955.17 386.26,954.30 386.74,953.42 387.21,952.54 387.68,951.66 388.13,950.77 388.59,949.88 389.03,948.98 389.48,948.09 389.92,947.19 390.36,946.29 390.80,945.40 391.25,944.50 391.69,943.60 392.13,942.71 392.58,941.81 393.02,940.91 393.46,940.02 393.91,939.12 394.35,938.22 394.80,937.33 395.24,936.44 395.69,935.54 396.14,934.65 396.60,933.76 397.05,932.86 397.50,931.97 397.95,931.08 398.41,930.19 398.86,929.30 399.32,928.41 399.78,927.52 400.23,926.63 400.68,925.74 401.13,924.85 401.58,923.95 402.01,923.05 402.44,922.15 402.87,921.24 403.30,920.34 403.73,919.44 404.16,918.54 404.61,917.64 405.06,916.75 405.53,915.87 406.00,914.99 406.48,914.11 406.96,913.23 407.45,912.36 407.94,911.49 408.43,910.62 408.93,909.75 409.43,908.89 409.94,908.03 410.45,907.17 410.97,906.32 411.50,905.46 412.03,904.62 412.56,903.77 413.09,902.92 413.63,902.08 414.18,901.24 414.73,900.41 415.29,899.58 415.86,898.76 416.43,897.94 417.01,897.12 417.59,896.31 418.19,895.51 418.79,894.72 419.42,893.94 420.05,893.17 420.71,892.42 421.37,891.67 422.05,890.94 422.74,890.21 423.43,889.49 424.13,888.78 424.85,888.08 425.57,887.40 426.30,886.71 427.04,886.04 427.79,885.38 428.54,884.72 429.31,884.08 430.08,883.45 430.86,882.82 431.65,882.21 432.44,881.60 433.24,881.00 434.04,880.40 434.85,879.81 435.66,879.22 436.47,878.64 437.28,878.05 438.09,877.47 438.90,876.88 439.70,876.29 440.51,875.69 441.32,875.10 442.12,874.51 442.94,873.93 443.75,873.36 444.58,872.79 445.41,872.23 446.24,871.68 447.08,871.13 447.92,870.59 448.76,870.06 449.62,869.54 450.48,869.04 451.35,868.55 452.23,868.08 453.11,867.61 454.01,867.16 454.90,866.72 455.81,866.30 456.72,865.88 457.63,865.49 458.56,865.10 459.48,864.73 460.41,864.36 461.35,864.01 462.29,863.67 463.23,863.33 464.18,863.01 465.13,862.70 466.08,862.40 467.04,862.12 468.00,861.84 468.96,861.58 469.93,861.32 470.90,861.07 471.86,860.83 472.84,860.59 473.81,860.35 474.78,860.11 475.75,859.87 476.72,859.64 477.69,859.41 478.67,859.17 479.64,858.94 480.61,858.72 481.59,858.50 482.57,858.28 483.54,858.08 484.52,857.89 485.51,857.70 486.49,857.53 487.48,857.37 488.47,857.21 489.45,857.08 490.45,856.94 491.44,856.82 492.43,856.70 493.42,856.59 494.41,856.47 495.40,856.36 496.38,856.24 497.35,856.13 498.26,856.03 498.50,856.00" fill="none" stroke="#133d6c" stroke-width="2.25" stroke-linejoin="round" stroke-linecap="butt"/>
<polyline points="368.30,973.70 369.28,973.50 370.26,973.29 371.24,973.09 372.21,972.87 373.17,972.60 374.11,972.31 375.05,971.98 375.96,971.61 376.86,971.19 377.74,970.74 378.61,970.25 379.45,969.73 380.28,969.18 381.09,968.60 381.88,967.99 382.66,967.37 383.42,966.72 384.17,966.06 384.89,965.38 385.59,964.67 386.28,963.95 386.94,963.20 387.59,962.44 388.21,961.67 388.82,960.88 389.41,960.07 389.99,959.25 390.54,958.43 391.09,957.59 391.62,956.74 392.15,955.89 392.67,955.04 393.19,954.18 393.70,953.33 394.22,952.47 394.73,951.61 395.25,950.76 395.76,949.90 396.28,949.04 396.79,948.18 397.30,947.33 397.82,946.47 398.33,945.61 398.85,944.75 399.36,943.90 399.88,943.04 400.39,942.18 400.90,941.32 401.41,940.46 401.91,939.59 402.40,938.72 402.88,937.85 403.35,936.96 403.80,936.08 404.25,935.18 404.69,934.28 405.13,933.39 405.57,932.49 406.02,931.60 406.47,930.71 406.94,929.82 407.42,928.95 407.92,928.08 408.43,927.22 408.94,926.36 409.45,925.51 409.96,924.65 410.47,923.79 410.97,922.92 411.47,922.05 411.96,921.18 412.44,920.31 412.93,919.43 413.40,918.55 413.87,917.67 414.33,916.78 414.78,915.89 415.23,915.00 415.68,914.10 416.13,913.21 416.58,912.32 417.05,911.44 417.53,910.56 418.03,909.70 418.54,908.84 419.06,907.98 419.59,907.13 420.12,906.29 420.65,905.44 421.18,904.60 421.71,903.75 422.24,902.90 422.75,902.04 423.27,901.18 423.78,900.32 424.29,899.46 424.80,898.60 425.31,897.75 425.83,896.89 426.36,896.05 426.91,895.21 427.47,894.38 428.04,893.56 428.62,892.75 429.21,891.95 429.82,891.15 430.44,890.37 431.08,889.61 431.74,888.87 432.42,888.13 433.12,887.42 433.82,886.71 434.53,886.00 435.25,885.31 435.97,884.62 436.71,883.94 437.44,883.27 438.19,882.60 438.93,881.93 439.69,881.28 440.44,880.62 441.21,879.98 441.97,879.34 442.74,878.70 443.52,878.06 444.29,877.43 445.06,876.79 445.82,876.15 446.59,875.51 447.36,874.87 448.13,874.23 448.91,873.61 449.70,873.00 450.51,872.42 451.33,871.85 452.16,871.30 453.00,870.76 453.86,870.24 454.71,869.73 455.58,869.23 456.46,868.75 457.34,868.29 458.23,867.83 459.12,867.39 460.02,866.95 460.93,866.53 461.84,866.12 462.75,865.71 463.67,865.32 464.59,864.93 465.52,864.55 466.45,864.18 467.38,863.82 468.31,863.46 469.25,863.11 470.18,862.76 471.12,862.42 472.07,862.08 473.01,861.75 473.96,861.43 474.91,861.13 475.86,860.84 476.82,860.56 477.79,860.30 478.75,860.04 479.72,859.79 480.69,859.54 481.66,859.30 482.63,859.06 483.60,858.82 484.57,858.59 485.55,858.37 486.52,858.15 487.50,857.94 488.48,857.74 489.46,857.55 490.45,857.36 491.43,857.18 492.41,857.01 493.40,856.84 494.38,856.67 495.36,856.51 496.34,856.35 497.30,856.19 498.22,856.04 498.50,856.00" fill="none" stroke="#c0112f" stroke-width="2.25" stroke-linejoin="round" stroke-linecap="butt"/>
<polyline points="368.30,973.70 369.28,973.51 370.26,973.32 371.24,973.10 372.19,972.83 373.14,972.53 374.08,972.21 375.01,971.85 375.93,971.47 376.84,971.06 377.74,970.63 378.63,970.17 379.50,969.69 380.36,969.19 381.21,968.67 382.04,968.12 382.86,967.55 383.66,966.96 384.46,966.35 385.24,965.73 386.02,965.11 386.79,964.47 387.56,963.83 388.32,963.18 389.07,962.52 389.81,961.85 390.54,961.17 391.26,960.48 391.97,959.78 392.66,959.05 393.32,958.32 393.96,957.56 394.58,956.77 395.17,955.97 395.74,955.16 396.30,954.33 396.86,953.50 397.42,952.68 397.99,951.85 398.57,951.04 399.15,950.23 399.74,949.42 400.34,948.62 400.94,947.82 401.53,947.02 402.13,946.21 402.72,945.41 403.31,944.60 403.90,943.79 404.48,942.98 405.07,942.17 405.65,941.35 406.23,940.54 406.81,939.72 407.39,938.91 407.98,938.10 408.57,937.29 409.15,936.48 409.74,935.68 410.33,934.87 410.92,934.06 411.51,933.25 412.09,932.44 412.68,931.63 413.26,930.81 413.83,930.00 414.41,929.18 414.98,928.36 415.55,927.53 416.12,926.71 416.69,925.89 417.26,925.07 417.83,924.25 418.40,923.43 418.97,922.61 419.54,921.79 420.11,920.97 420.69,920.14 421.26,919.33 421.83,918.51 422.41,917.69 423.00,916.88 423.58,916.07 424.17,915.26 424.76,914.45 425.36,913.65 425.95,912.85 426.55,912.05 427.15,911.25 427.76,910.46 428.38,909.67 429.01,908.89 429.64,908.12 430.29,907.36 430.93,906.60 431.59,905.84 432.24,905.08 432.89,904.32 433.55,903.57 434.20,902.81 434.85,902.05 435.51,901.30 436.16,900.54 436.82,899.79 437.47,899.03 438.13,898.28 438.80,897.53 439.47,896.79 440.15,896.06 440.83,895.33 441.52,894.61 442.22,893.89 442.91,893.17 443.62,892.46 444.33,891.76 445.05,891.06 445.77,890.38 446.51,889.70 447.24,889.02 447.99,888.35 448.74,887.70 449.50,887.05 450.27,886.41 451.05,885.78 451.83,885.17 452.63,884.57 453.43,883.97 454.24,883.38 455.05,882.80 455.87,882.23 456.70,881.66 457.53,881.10 458.36,880.55 459.20,880.01 460.04,879.48 460.89,878.95 461.75,878.43 462.61,877.93 463.48,877.43 464.35,876.94 465.23,876.46 466.11,875.99 467.00,875.53 467.89,875.08 468.79,874.64 469.69,874.21 470.59,873.79 471.51,873.38 472.42,872.99 473.35,872.61 474.28,872.24 475.21,871.89 476.15,871.54 477.09,871.21 478.03,870.87 478.98,870.54 479.92,870.21 480.86,869.88 481.81,869.55 482.75,869.22 483.69,868.89 484.64,868.56 485.58,868.23 486.53,867.90 487.47,867.57 488.42,867.24 489.36,866.92 490.31,866.61 491.26,866.30 492.22,866.01 493.17,865.72 494.13,865.45 495.09,865.18 496.04,864.93 496.99,864.69 497.91,864.45 498.50,864.30 498.50,864.30" fill="none" stroke="#2ba6de" stroke-width="2.25" stroke-linejoin="round" stroke-linecap="butt"/>
<path d="M405.30 910.50 H411.30 M405.30 907.10 V913.90 M411.30 907.10 V913.90" fill="none" stroke="#3a6694" stroke-width="1.30"/>
<path d="M414.40 910.50 H419.70 M414.40 907.10 V913.90 M419.70 907.10 V913.90" fill="none" stroke="#c04a66" stroke-width="1.30"/>
<path d="M419.70 910.50 H434.60 M419.70 907.10 V913.90 M434.60 907.10 V913.90" fill="none" stroke="#64a8cc" stroke-width="1.30"/>
<line x1="474.20" y1="920.90" x2="493.70" y2="920.90" stroke="#133d6c" stroke-width="2.3"/>
<line x1="474.20" y1="946.90" x2="493.70" y2="946.90" stroke="#c0112f" stroke-width="2.3"/>
<line x1="474.20" y1="972.90" x2="493.70" y2="972.90" stroke="#2ba6de" stroke-width="2.3"/>
<line x1="452.90" y1="919.50" x2="452.90" y2="974.00" stroke="#111" stroke-width="1.55"/>
<line x1="468.60" y1="919.50" x2="468.60" y2="944.40" stroke="#111" stroke-width="1.55"/>
<line x1="468.60" y1="949.10" x2="468.60" y2="974.00" stroke="#111" stroke-width="1.55"/>
<path d="M446.75 942.75 L446.75 940.40 M446.75 942.75 L448.98 942.02 M446.75 942.75 L448.13 944.65 M446.75 942.75 L445.37 944.65 M446.75 942.75 L444.52 942.02 " stroke="#231f20" stroke-width="1.20" stroke-linecap="round" fill="none"/>
<path d="M446.75 948.00 L446.75 945.65 M446.75 948.00 L448.98 947.27 M446.75 948.00 L448.13 949.90 M446.75 948.00 L445.37 949.90 M446.75 948.00 L444.52 947.27 " stroke="#231f20" stroke-width="1.20" stroke-linecap="round" fill="none"/>
<path d="M446.75 953.25 L446.75 950.90 M446.75 953.25 L448.98 952.52 M446.75 953.25 L448.13 955.15 M446.75 953.25 L445.37 955.15 M446.75 953.25 L444.52 952.52 " stroke="#231f20" stroke-width="1.20" stroke-linecap="round" fill="none"/>
<path d="M462.30 928.15 L462.30 925.80 M462.30 928.15 L464.53 927.42 M462.30 928.15 L463.68 930.05 M462.30 928.15 L460.92 930.05 M462.30 928.15 L460.07 927.42 " stroke="#231f20" stroke-width="1.20" stroke-linecap="round" fill="none"/>
<path d="M462.30 933.40 L462.30 931.05 M462.30 933.40 L464.53 932.67 M462.30 933.40 L463.68 935.30 M462.30 933.40 L460.92 935.30 M462.30 933.40 L460.07 932.67 " stroke="#231f20" stroke-width="1.20" stroke-linecap="round" fill="none"/>
<path d="M462.30 938.65 L462.30 936.30 M462.30 938.65 L464.53 937.92 M462.30 938.65 L463.68 940.55 M462.30 938.65 L460.92 940.55 M462.30 938.65 L460.07 937.92 " stroke="#231f20" stroke-width="1.20" stroke-linecap="round" fill="none"/>
<path d="M462.30 957.25 L462.30 954.90 M462.30 957.25 L464.53 956.52 M462.30 957.25 L463.68 959.15 M462.30 957.25 L460.92 959.15 M462.30 957.25 L460.07 956.52 " stroke="#231f20" stroke-width="1.20" stroke-linecap="round" fill="none"/>
<path d="M462.30 962.50 L462.30 960.15 M462.30 962.50 L464.53 961.77 M462.30 962.50 L463.68 964.40 M462.30 962.50 L460.92 964.40 M462.30 962.50 L460.07 961.77 " stroke="#231f20" stroke-width="1.20" stroke-linecap="round" fill="none"/>
<path d="M462.30 967.75 L462.30 965.40 M462.30 967.75 L464.53 967.02 M462.30 967.75 L463.68 969.65 M462.30 967.75 L460.92 969.65 M462.30 967.75 L460.07 967.02 " stroke="#231f20" stroke-width="1.20" stroke-linecap="round" fill="none"/>
<rect x="147.8" y="1044.2" width="9.2" height="9.2" fill="#15508f" stroke="#0c2f5a" stroke-width="0.6"/>
<text transform="translate(161.94 1053.50) scale(0.9500 1)" font-size="14.00" fill="#231f20"><tspan>CB</tspan></text>
<rect x="202.5" y="1044.2" width="9.3" height="9.2" fill="#d0082e" stroke="#a5001f" stroke-width="0.6"/>
<text transform="translate(217.00 1053.50) scale(1.0007 1)" font-size="14.00" fill="#231f20"><tspan>Young adult</tspan></text>
<rect x="312.0" y="1044.2" width="9.6" height="9.2" fill="#2aa8df" stroke="#1a8fbf" stroke-width="0.6"/>
<text transform="translate(327.25 1053.50) scale(1.0090 1)" font-size="14.00" fill="#231f20"><tspan>Aged adult</tspan></text>
<rect x="0.5" y="0.5" width="519" height="1068" fill="none" stroke="#111" stroke-width="1.2"/>
</svg>
</body></html>
